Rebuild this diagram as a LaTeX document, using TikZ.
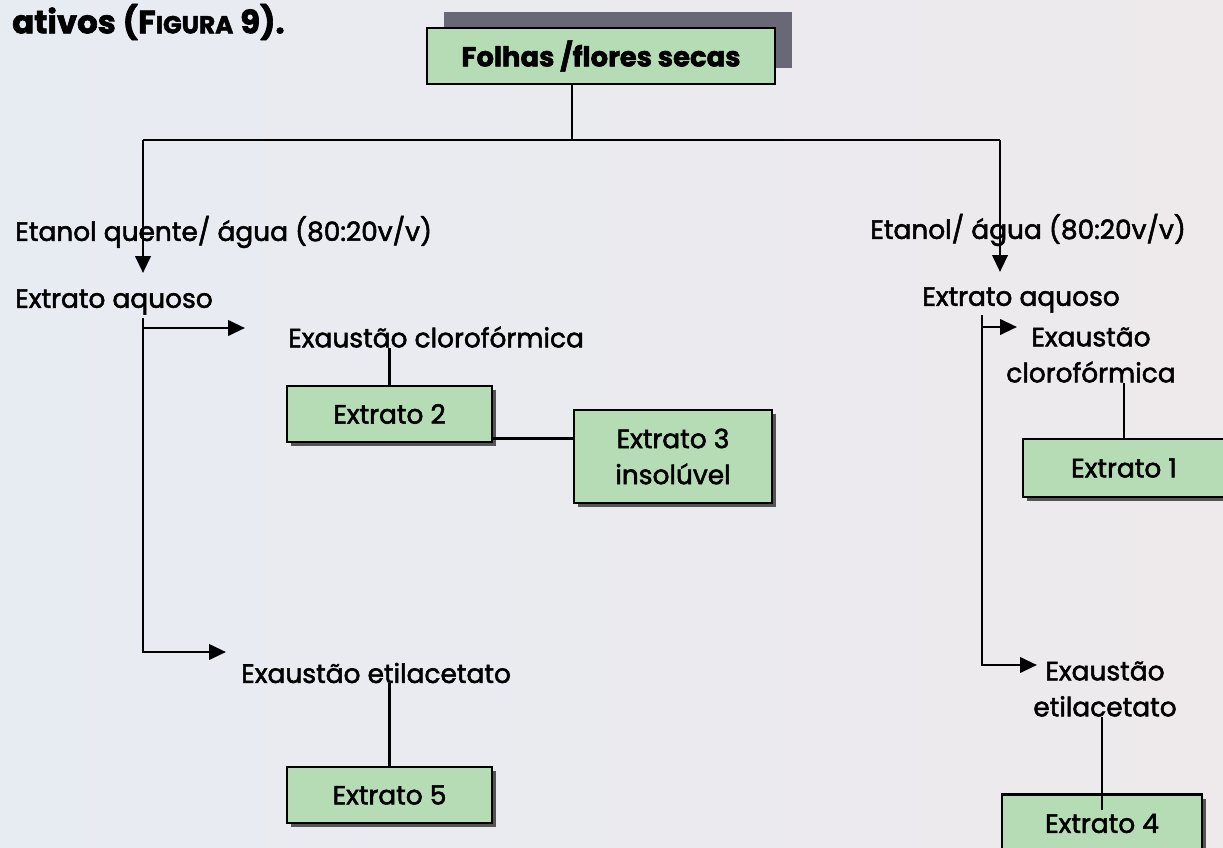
\documentclass[tikz,border=0pt]{standalone}
\usepackage{fontspec}
\setmainfont{Poppins}[FakeBold=2]
\usepackage{xcolor}
\usetikzlibrary{arrows.meta,shadows}
\definecolor{paperL}{RGB}{231,235,242}
\definecolor{paperR}{RGB}{238,234,236}
\definecolor{boxgreen}{RGB}{182,220,182}
\definecolor{topshadow}{RGB}{104,104,118}
\definecolor{boxshadow}{RGB}{85,85,85}

\begin{document}
\begin{tikzpicture}[x=0.025cm,y=-0.025cm,
  txt/.style={anchor=west,inner sep=0pt,font=\fontsize{18.8}{25.6}\selectfont},
  ctxt/.style={inner sep=0pt,align=center,font=\fontsize{18.8}{25.6}\selectfont},
  greenbox/.style={draw=black,line width=2pt,fill=boxgreen,inner sep=0pt,align=center,
    font=\fontsize{18.8}{25.6}\selectfont},
  extbox/.style={greenbox,
    drop shadow={shadow xshift=0.1cm,shadow yshift=-0.1cm,fill=boxshadow,opacity=1}},
  line/.style={line width=2pt},
  arr/.style={line width=2pt,-{Triangle[length=0.42cm,width=0.38cm]}}]
\clip (0,0) rectangle (1223,848);
\fill[left color=paperL,right color=paperR] (0,0) rectangle (1223,848);

\node[txt,font=\bfseries\fontsize{23}{26}\selectfont] (ativos) at (12,22) {ativos (F{\fontsize{17.5}{20}\selectfont IGURA} 9).};
\node[greenbox,minimum width=8.7cm,minimum height=1.4cm,font=\bfseries\fontsize{19.5}{22}\selectfont,
  drop shadow={shadow xshift=0.42cm,shadow yshift=0.4cm,fill=topshadow,opacity=1}] (folhas) at (601,56) {Folhas /flores secas};

\node[txt] (etanolL) at (15,232) {Etanol quente/ água (80:20v/v)};
\node[txt] (aquosoL) at (15,302) {Extrato aquoso};
\node[txt] (exclor) at (288,337) {Exaustão clorofórmica};
\node[txt] (exetil) at (241,673) {Exaustão etilacetato};
\node[txt] (etanolR) at (870,230) {Etanol/ água (80:20v/v)};
\node[txt] (aquosoR) at (922,300) {Extrato aquoso};
\node[ctxt] (exclorR) at (1091,355) {Exaustão\\clorofórmica};
\node[ctxt] (exetilR) at (1105,689) {Exaustão\\etilacetato};

\node[extbox,minimum width=5.125cm,minimum height=1.4cm] (ext2) at (389.5,414) {Extrato 2};
\node[extbox,minimum width=4.95cm,minimum height=2.325cm] (ext3) at (673,456.5) {Extrato 3\\insolúvel};
\node[extbox,minimum width=5.05cm,minimum height=1.45cm] (ext1) at (1124,468) {Extrato 1};
\node[extbox,minimum width=5.125cm,minimum height=1.4cm] (ext5) at (389.5,795) {Extrato 5};
\node[extbox,minimum width=5cm,minimum height=1.45cm] (ext4) at (1102,823.5) {Extrato 4};

\coordinate (split) at (572,140);
\coordinate (lcorner) at (143,140);
\coordinate (rcorner) at (1000,140);
\coordinate (ltip) at (143,273);
\coordinate (rtip) at (1000,272);
\coordinate (ltop) at (143,318);
\coordinate (rtop) at (982,315);
\coordinate (lclor) at (245,328);
\coordinate (rclor) at (1017,327);
\coordinate (letil) at (226,652);
\coordinate (retil) at (1037,665);

\draw[line] (folhas.south -| split) -- (split);
\draw[line] (lcorner) -- (rcorner);
\draw[arr] (lcorner) -- (ltip);
\draw[arr] (rcorner) -- (rtip);
\draw[arr] (ltop) |- (letil);
\draw[arr] (ltop |- lclor) -- (lclor);
\draw[arr] (rtop) |- (retil);
\draw[arr] (rtop |- rclor) -- (rclor);
\draw[line] (ext2.north |- exclor.south) -- (ext2.north);
\draw[line] ([yshift=0.125cm]ext2.south east) -- ([yshift=0.125cm]ext2.south east -| ext3.west);
\draw[line] (ext5.north |- exetil.south) -- (ext5.north);
\draw[line] (ext1.north |- exclorR.south) -- (ext1.north);
\draw[line] (ext4.north |- exetilR.south) -- ([yshift=-0.43cm]ext4.north);
\end{tikzpicture}
\end{document}
